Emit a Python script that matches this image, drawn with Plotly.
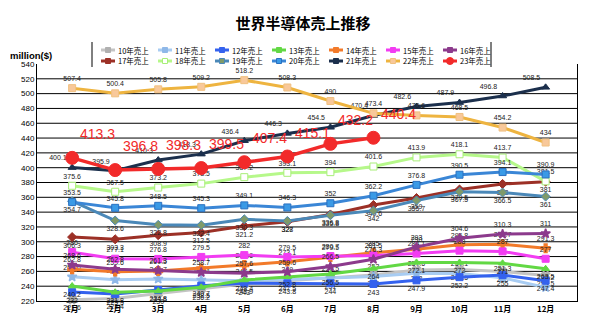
import plotly.graph_objects as go

months = ["1月", "2月", "3月", "4月", "5月", "6月", "7月", "8月", "9月", "10月", "11月", "12月"]
yticks = [220, 240, 260, 280, 300, 320, 340, 360, 380, 400, 420, 440, 460, 480, 500, 520, 540]

s10 = [221.6, 223.4, 230.0, 236.2, 243.0, 247.5, 251.0, 255.0, 262.0, 262.5, 260.0, 254.5]
s11 = [252.6, 248.8, 249.7, 248.4, 247.5, 249.0, 250.5, 253.0, 257.6, 257.1, 251.3, 238.2]
s12 = [232.0, 229.5, 234.8, 240.7, 243.9, 243.8, 244.0, 243.0, 247.9, 252.2, 255.0, 247.4]
s13 = [240.2, 231.8, 233.5, 238.5, 248.4, 252.8, 256.5, 264.0, 272.1, 272.0, 271.0, 263.5]
s14 = [262.8, 259.6, 260.5, 264.1, 268.6, 273.1, 279.5, 285.0, 290.0, 295.8, 296.7, 291.3]
s15 = [286.0, 277.1, 276.8, 279.5, 282.0, 279.5, 280.7, 281.5, 284.1, 288.0, 287.0, 277.0]
s16 = [268.6, 262.8, 261.3, 258.7, 257.6, 259.6, 266.5, 276.3, 293.0, 304.6, 310.3, 311.0]
s17 = [306.3, 303.3, 308.9, 312.5, 321.2, 327.0, 336.8, 349.6, 359.0, 370.5, 378.0, 381.0]
s18 = [375.6, 367.5, 373.2, 378.5, 387.2, 393.1, 394.0, 401.6, 413.9, 418.1, 413.7, 381.5]
s19 = [354.7, 328.6, 322.8, 322.4, 330.3, 328.0, 335.8, 342.0, 355.7, 367.5, 366.5, 361.0]
s20 = [353.5, 345.8, 348.5, 345.3, 349.1, 346.3, 352.0, 362.2, 376.8, 390.5, 394.1, 390.9]
s21 = [400.1, 395.9, 410.3, 418.3, 436.4, 446.3, 454.5, 470.4, 482.6, 487.9, 496.8, 508.5]
s22 = [507.4, 500.4, 505.8, 509.2, 518.2, 508.3, 490.0, 473.4, 470.6, 468.5, 454.2, 434.0]
s23 = [413.3, 396.8, 398.3, 399.5, 407.4, 415.1, 432.2, 440.4]

names = ["10年売上", "11年売上", "12年売上", "13年売上", "14年売上", "15年売上", "16年売上",
         "17年売上", "18年売上", "19年売上", "20年売上", "21年売上", "22年売上", "23年売上"]
series = [s10, s11, s12, s13, s14, s15, s16, s17, s18, s19, s20, s21, s22, s23]

# style per series: line colour, marker colour, symbol, marker line colour, label position
styles = [
    ("#c4c4c4", "#b0b0b0", "x", "#b0b0b0", "bottom center"),
    ("#a8ccf2", "#8fb8e8", "star", "#8fb8e8", "top center"),
    ("#3462ee", "#3462ee", "square", "#3462ee", "bottom center"),
    ("#62d844", "#62d844", "triangle-up", "#62d844", "bottom center"),
    ("#f27a2a", "#f27a2a", "cross", "#f27a2a", "top center"),
    ("#f23cf2", "#f23cf2", "square", "#f23cf2", "top center"),
    ("#8c3a8c", "#8c3a8c", "star", "#8c3a8c", "top center"),
    ("#9c3026", "#9c3026", "diamond", "#9c3026", "bottom center"),
    ("#b6f88a", "#ffffff", "square", "#a8ee78", "top center"),
    ("#4a88b8", "#7f9a6a", "diamond", "#4a88b8", "bottom center"),
    ("#3a86d6", "#3a9ae6", "square", "#2a70c0", "top center"),
    ("#1b2f4c", "#1b2f4c", "triangle-up", "#1b2f4c", "top left"),
    ("#eeb440", "#f8c89a", "square", "#f0c080", "top center"),
    ("#f22a2a", "#f22a2a", "circle", "#f22a2a", "top right"),
]

L, R, T, B = 37, 23, 64, 24
W, H = 600, 325
def px2x(px):
    return (px - L) / (W - L - R)
def py2y(py):
    return (H - B - py) / (H - T - B)

shapes = []
annotations = []

fig = go.Figure()
for i, (nm, vals) in enumerate(zip(names, series)):
    lc, mc, sym, mlc, tpos = styles[i]
    big = (i == 13)
    fig.add_trace(go.Scatter(
        x=months[:len(vals)], y=vals, name=nm,
        mode="lines+markers" if big else "lines+markers+text",
        line=dict(color=lc, width=3.5 if big else 3),
        marker=dict(color=mc, symbol=sym, size=13 if big else 7,
                    line=dict(color=mlc, width=1.5 if sym in ("x", "cross", "star") else 1)),
        text=None if big else [f"{v:g}" for v in vals], textposition=tpos,
        textfont=dict(size=7, color="#222222", family="Liberation Sans, Arial"),
        cliponaxis=False, showlegend=False,
    ))
    if big:
        # large red value labels, offset up-right from each point
        for m, v in zip(months, vals):
            annotations.append(dict(text=f"{v:g}", x=m, y=v, xref="x", yref="y",
                                    xanchor="left", yanchor="middle", xshift=6, yshift=24,
                                    showarrow=False,
                                    font=dict(size=14, color="#f22a2a", family="Liberation Sans, Arial")))

# horizontal grid lines (none at the top edge, as in the reference)
for v in yticks[1:-1]:
    shapes.append(dict(type="line", xref="paper", yref="y", x0=0, x1=1, y0=v, y1=v,
                       line=dict(color="black", width=1), layer="below"))
# manual legend
shapes.append(dict(type="line", xref="paper", yref="paper", x0=px2x(92), x1=px2x(92),
                   y0=py2y(42), y1=py2y(67), line=dict(color="black", width=1)))
shapes.append(dict(type="line", xref="paper", yref="paper", x0=px2x(491), x1=px2x(491),
                   y0=py2y(42), y1=py2y(67), line=dict(color="black", width=1)))
for i, nm in enumerate(names):
    lc, mc, sym, mlc, tpos = styles[i]
    col, row = i % 7, i // 7
    x0 = 101 + 57 * col
    yy = 50 + 11 * row
    shapes.append(dict(type="line", xref="paper", yref="paper", x0=px2x(x0), x1=px2x(x0 + 14),
                       y0=py2y(yy), y1=py2y(yy), line=dict(color=lc, width=3)))
    cx = x0 + 7
    if sym == "circle":
        shapes.append(dict(type="circle", xref="paper", yref="paper", x0=px2x(cx - 3.5), x1=px2x(cx + 3.5),
                           y0=py2y(yy + 3.5), y1=py2y(yy - 3.5), fillcolor=mc, line=dict(color=mlc, width=1)))
    else:
        shapes.append(dict(type="rect", xref="paper", yref="paper", x0=px2x(cx - 2.5), x1=px2x(cx + 2.5),
                           y0=py2y(yy + 2.5), y1=py2y(yy - 2.5), fillcolor=mc, line=dict(color=mlc, width=1)))
    annotations.append(dict(text=nm, xref="paper", yref="paper", x=px2x(x0 + 15), y=py2y(yy),
                            xanchor="left", yanchor="middle", showarrow=False,
                            font=dict(size=7.5, color="black", family="Noto Sans CJK JP")))

annotations.append(dict(text="<b>million($)</b>", xref="paper", yref="paper", x=px2x(8), y=py2y(55),
                        xanchor="left", yanchor="middle", showarrow=False,
                        font=dict(size=9.5, color="black", family="Liberation Sans, Arial")))

fig.update_layout(
    width=W, height=H,
    margin=dict(l=L, r=R, t=T, b=B),
    paper_bgcolor="white", plot_bgcolor="white",
    title=dict(text="<b>世界半導体売上推移</b>", x=0.505, xanchor="center", y=1 - 24 / H, yanchor="middle",
               font=dict(size=15, color="black", family="Noto Sans CJK JP")),
    xaxis=dict(type="category", categoryorder="array", categoryarray=months,
               tickvals=months, ticktext=[f"<b>{m}</b>" for m in months],
               showline=True, linecolor="black", linewidth=1, showgrid=False,
               tickfont=dict(size=8, color="black", family="Noto Sans CJK JP"), ticks=""),
    yaxis=dict(range=[220, 540], tickvals=yticks, showline=True, mirror=True, linecolor="black",
               linewidth=1, showgrid=False, zeroline=False,
               tickfont=dict(size=8, color="black", family="Liberation Sans, Arial"), ticks=""),
    shapes=shapes, annotations=annotations,
    showlegend=False,
)

fig.write_html("out.html")
